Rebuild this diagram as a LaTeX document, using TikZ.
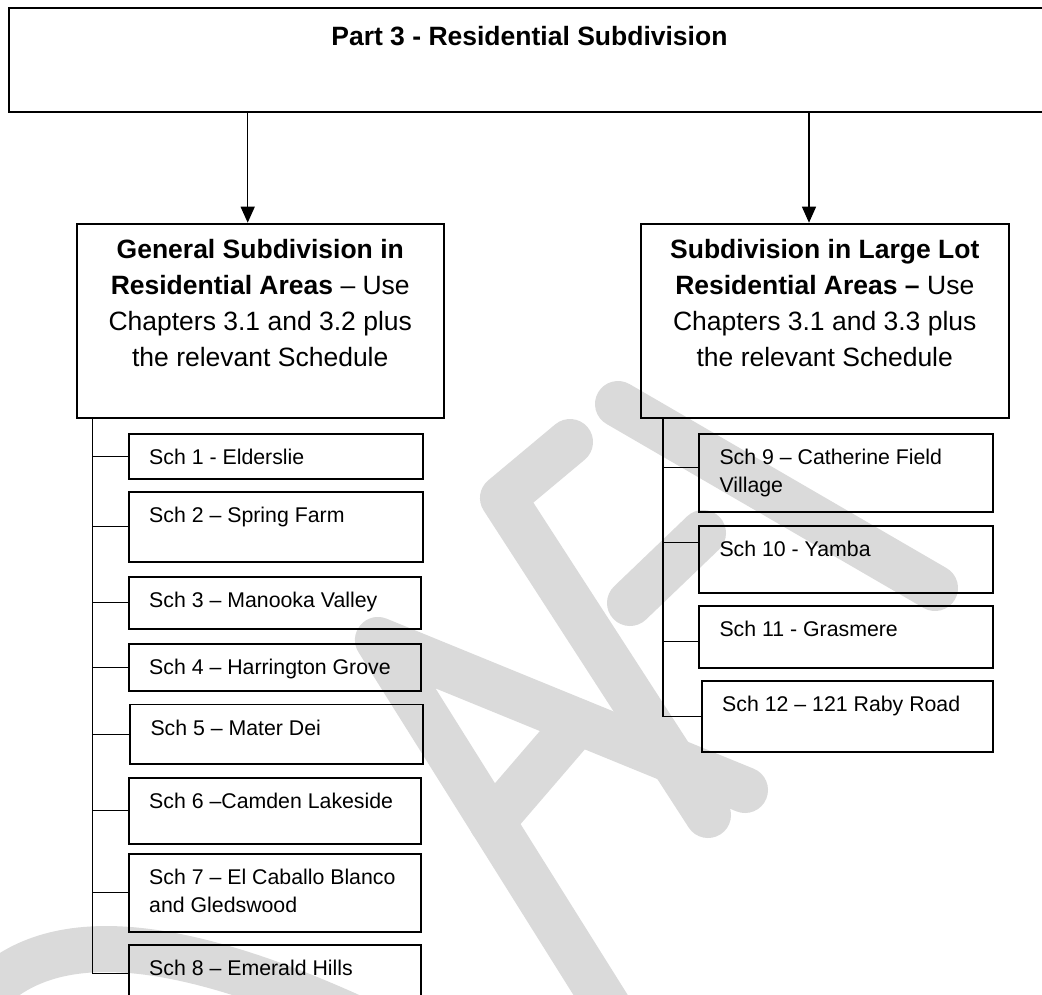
\documentclass[tikz,border=0pt]{standalone}
\usepackage{fontspec}
\setmainfont{Liberation Sans}
\usetikzlibrary{arrows.meta}
\definecolor{wm}{RGB}{218,218,218}
\begin{document}
\begin{tikzpicture}[x=1pt,y=1pt,
  box/.style={draw=black, line width=1.8pt, inner sep=0pt},
  schbox/.style={box, anchor=north west, text height=31pt},
  trunk/.style={line width=1.4pt},
  conn/.style={line width=1pt},
  arr/.style={line width=1.3pt, -{Triangle[length=16pt,width=14pt]}},
  wmstroke/.style={draw=wm, line width=46pt, line cap=round, line join=round}
]
\fill[white] (0,0) rectangle (1042,-994);
\useasboundingbox (0,0) rectangle (1042,-994);
\clip (0,0) rectangle (1042,-994);

% watermark strokes (DRAFT, light grey, behind everything)
\draw[wmstroke] (-20,-1000) .. controls (40,-930) and (160,-925) .. (380,-1030);
\draw[wmstroke] (610,-1010) -- (378,-640) -- (745,-790);
\draw[wmstroke] (492,-822) -- (578,-722);
\draw[wmstroke] (570,-442) -- (503,-498) -- (708,-815);
\draw[wmstroke] (630,-603) -- (703,-533);
\draw[wmstroke] (618,-404) -- (935,-588);

% top box
\node[box, anchor=north west, minimum width=1041pt, text height=38.3pt, text depth=66pt,
      font=\fontsize{26.5}{36}\selectfont\bfseries] (top) at (8,-6.7) {Part 3 - Residential Subdivision};

% main boxes
\node[box, anchor=north west, minimum width=367.3pt, text height=34.6pt, text depth=159.7pt] (gen) at (75.7,-222.7)
  {\parbox[t]{360pt}{\centering\fontsize{26.5}{36}\selectfont
   \textbf{General Subdivision in}\\\textbf{Residential Areas} – Use\\Chapters 3.1 and 3.2 plus\\the relevant Schedule}};
\node[box, anchor=north west, minimum width=367.7pt, text height=34.6pt, text depth=159.7pt] (lrg) at (640,-222.7)
  {\parbox[t]{360pt}{\centering\fontsize{26.5}{36}\selectfont
   \textbf{Subdivision in Large Lot}\\\textbf{Residential Areas –} Use\\Chapters 3.1 and 3.3 plus\\the relevant Schedule}};

% arrows
\coordinate (aL) at (247.7,0);
\coordinate (aR) at (809,0);
\draw[arr] (aL |- top.south) -- (aL |- gen.north);
\draw[arr] (aR |- top.south) -- (aR |- lrg.north);

% left schedules
\node[schbox, minimum width=294.3pt, text depth=14pt] (s1) at (127.7,-432.7)
  {\parbox[t]{253.1pt}{\raggedright\fontsize{21.3}{27.4}\selectfont Sch 1 - Elderslie}};
\node[schbox, minimum width=294.3pt, text depth=38.7pt] (s2) at (127.7,-491)
  {\parbox[t]{253.1pt}{\raggedright\fontsize{21.3}{27.4}\selectfont Sch 2 – Spring Farm}};
\node[schbox, minimum width=292.3pt, text depth=21.3pt] (s3) at (127.7,-575.7)
  {\parbox[t]{251.1pt}{\raggedright\fontsize{21.3}{27.4}\selectfont Sch 3 – Manooka Valley}};
\node[schbox, minimum width=292.3pt, text depth=16.3pt] (s4) at (127.7,-642.7)
  {\parbox[t]{251.1pt}{\raggedright\fontsize{21.3}{27.4}\selectfont Sch 4 – Harrington Grove}};
\node[schbox, minimum width=293pt, text depth=28.5pt] (s5) at (129,-703.5)
  {\parbox[t]{251.8pt}{\raggedright\fontsize{21.3}{27.4}\selectfont Sch 5 – Mater Dei}};
\node[schbox, minimum width=292.3pt, text depth=34.7pt] (s6) at (127.7,-777)
  {\parbox[t]{251.1pt}{\raggedright\fontsize{21.3}{27.4}\selectfont Sch 6 –Camden Lakeside}};
\node[schbox, minimum width=292.3pt, text depth=47pt] (s7) at (127.7,-853)
  {\parbox[t]{251.1pt}{\raggedright\fontsize{21.3}{27.4}\selectfont Sch 7 – El Caballo Blanco\\and Gledswood}};
\node[schbox, minimum width=292.3pt, text depth=26.4pt] (s8) at (127.7,-944)
  {\parbox[t]{251.1pt}{\raggedright\fontsize{21.3}{27.4}\selectfont Sch 8 – Emerald Hills}};

% right schedules
\node[schbox, minimum width=294pt, text depth=47.3pt] (s9) at (698,-432.7)
  {\parbox[t]{252.8pt}{\raggedright\fontsize{21.3}{27.4}\selectfont Sch 9 – Catherine Field\\Village}};
\node[schbox, minimum width=294pt, text depth=35.7pt] (s10) at (698,-525)
  {\parbox[t]{252.8pt}{\raggedright\fontsize{21.3}{27.4}\selectfont Sch 10 - Yamba}};
\node[schbox, minimum width=294pt, text depth=30.7pt] (s11) at (698,-605)
  {\parbox[t]{252.8pt}{\raggedright\fontsize{21.3}{27.4}\selectfont Sch 11 - Grasmere}};
\node[schbox, minimum width=291.3pt, text depth=39.7pt] (s12) at (700.7,-680)
  {\parbox[t]{250.1pt}{\raggedright\fontsize{21.3}{27.4}\selectfont Sch 12 – 121 Raby Road}};

% left trunk and connectors
\coordinate (tL) at (92.7,0);
\draw[trunk] (tL |- gen.south) -- (tL |- s8.west);
\foreach \b in {s1,s2,s3,s4,s5,s6,s7,s8}
  \draw[conn] (tL |- \b.west) -- (\b.west);

% right trunk and connectors
\coordinate (j9) at (663,-467.7);
\coordinate (j10) at (663,-542.7);
\coordinate (j11) at (663,-641.7);
\coordinate (j12) at (663,-716.7);
\draw[trunk] (j9 |- lrg.south) -- (j12);
\draw[conn] (j9) -- (j9 -| s9.west);
\draw[conn] (j10) -- (j10 -| s10.west);
\draw[conn] (j11) -- (j11 -| s11.west);
\draw[conn] (j12) -- (j12 -| s12.west);
\end{tikzpicture}
\end{document}
